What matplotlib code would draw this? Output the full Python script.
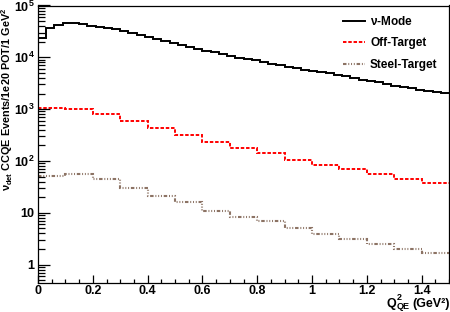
import numpy as np
import matplotlib
matplotlib.use("Agg")
import matplotlib.pyplot as plt
from matplotlib.ticker import FixedLocator, FuncFormatter, MultipleLocator

plt.rcParams['font.family'] = ['Liberation Sans', 'DejaVu Sans']
plt.rcParams['font.weight'] = 'bold'
plt.rcParams['mathtext.fontset'] = 'custom'
plt.rcParams['mathtext.rm'] = 'Liberation Sans:bold'
plt.rcParams['mathtext.it'] = 'Liberation Sans:bold'
plt.rcParams['mathtext.bf'] = 'Liberation Sans:bold'
plt.rcParams['lines.scale_dashes'] = False

# ---- data ----
nu_mode_edges = np.linspace(0, 1.5, 51)
nu_mode = [23300, 37200, 42100, 46600, 46600, 44000, 40200, 39000,
           37610, 34420, 31490, 28810, 26590, 24430, 22560, 20820, 19220,
           17590, 15950, 14590, 13350, 12490, 11480, 10740, 9910, 9480,
           8870, 8230, 7520, 7100, 6500, 6130, 5740, 5490, 5250,
           4910, 4550, 4300, 3950, 3695, 3440, 3290, 3050, 2830,
           2650, 2520, 2370, 2265, 2170, 2045]

coarse_edges = np.linspace(0, 1.5, 16)
off_target = [1030, 1020, 804, 597, 426, 316, 228, 180, 140, 104, 83, 69, 55, 44.7, 37.9]
steel_target = [51, 56, 44, 30, 21, 15.9, 10.9, 8.4, 6.9, 5.1, 3.8, 3.06, 2.45, 2.02, 1.64]

series_labels = [r'$\nu$-Mode', 'Off-Target', 'Steel-Target']
x_label_main = 'Q'
x_label_sup = '2'
x_label_sub = 'QE'
x_label_unit = '(GeV²)'
y_label = r'$\nu_{det}$ CCQE Events/1e20 POT/1 GeV$^{2}$'

# ---- figure ----
W, H = 450, 312
fig = plt.figure(figsize=(W / 100, H / 100), dpi=100)
ax = fig.add_axes([38 / W, 1 - 283 / H, (449 - 38) / W, (283 - 5.5) / H])

steel_color = '#8c7364'
ax.stairs(nu_mode, nu_mode_edges, color='black', lw=1.4, label=series_labels[0], baseline=None)
ax.stairs(off_target, coarse_edges, color='#ff0000', lw=1.4, label=series_labels[1],
          baseline=None, linestyle=(0, (2.5, 1.3)))
ax.stairs(steel_target, coarse_edges, color=steel_color, lw=1.5, label=series_labels[2],
          baseline=None, linestyle=(0, (2.5, 1.3, 0.7, 1.3, 0.7, 1.3, 0.7, 1.3)))

ax.set_yscale('log')
ax.set_xlim(0, 1.5)
ax.set_ylim(0.44, 1e5)

def yfmt(v, pos):
    if v == 1:
        return '1'
    if v == 10:
        return '10'
    e = int(round(np.log10(v)))
    return r'10$^{%d}$' % e

ax.yaxis.set_major_locator(FixedLocator([1, 10, 100, 1e3, 1e4, 1e5]))
ax.yaxis.set_major_formatter(FuncFormatter(yfmt))
ax.xaxis.set_major_locator(MultipleLocator(0.2))
ax.xaxis.set_minor_locator(MultipleLocator(0.05))
ax.xaxis.set_major_formatter(FuncFormatter(lambda v, p: '0' if abs(v) < 1e-9 else ('1' if abs(v - 1) < 1e-9 else ('%.1f' % v))))

ax.tick_params(axis='both', which='both', direction='in', top=False, right=False,
               labelsize=9, width=0.9)
ax.tick_params(axis='y', which='major', length=8.5, pad=2.5)
ax.tick_params(axis='y', which='minor', length=5)
ax.tick_params(axis='x', which='major', length=5.5, pad=1.5)
ax.tick_params(axis='x', which='minor', length=2.8)
for lab in ax.get_xticklabels() + ax.get_yticklabels():
    lab.set_fontweight('bold')
for s in ax.spines.values():
    s.set_linewidth(0.9)

fig.text(7 / W, 1 - 8 / H, y_label, rotation=90, ha='center', va='top', fontsize=7.8,
         fontweight='bold')

# x-axis title built from pieces (Q, stacked 2 / QE, unit)
renderer = fig.canvas.get_renderer()
base_px = H - 306.5
t_unit = fig.text(450 / W, base_px / H, x_label_unit, ha='right', va='baseline',
                  fontsize=9, fontweight='bold')
bb_u = t_unit.get_window_extent(renderer)
t_sub = fig.text((bb_u.x0 - 3) / W, (base_px - 2.5) / H, x_label_sub, ha='right',
                 va='baseline', fontsize=6.5, fontweight='bold')
bb_s = t_sub.get_window_extent(renderer)
fig.text((bb_s.x0 + 0.5) / W, (base_px + 6) / H, x_label_sup, ha='left', va='baseline',
         fontsize=6.5, fontweight='bold')
fig.text((bb_s.x0 - 0.5) / W, base_px / H, x_label_main, ha='right', va='baseline',
         fontsize=9, fontweight='bold')

leg = ax.legend(loc='upper right', frameon=False, fontsize=8.5, handlelength=1.9,
                handletextpad=0.4, labelspacing=0.8, borderaxespad=0.4,
                bbox_to_anchor=(0.995, 1.0))
for t in leg.get_texts():
    t.set_fontweight('bold')

fig.savefig('out.png', dpi=100)
